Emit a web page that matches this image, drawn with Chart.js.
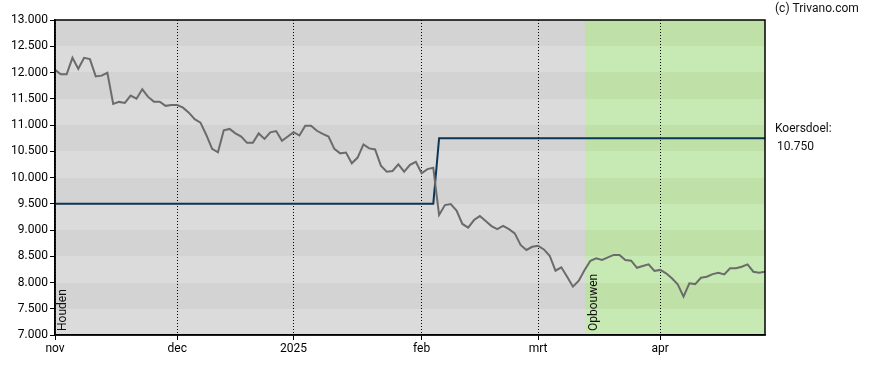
<!DOCTYPE html>
<html>
<head>
<meta charset="utf-8">
<script src="https://cdn.jsdelivr.net/npm/chart.js@4.4.1/dist/chart.umd.min.js"></script>
<style>
  html, body { margin: 0; padding: 0; background: #fff; }
  #wrap { width: 888px; height: 370px; }
</style>
</head>
<body>
<div id="wrap"><canvas id="koersChart" width="888" height="370"></canvas></div>
<script>
// slotkoersen per handelsdag, 1 nov 2024 t/m eind april 2025
const koers = [
  12050, 11965, 11965, 12280, 12070, 12280, 12255, 11925, 11940, 11995,
  11400, 11440, 11420, 11560, 11500, 11680, 11535, 11445, 11445, 11365,
  11380, 11380, 11330, 11235, 11110, 11045, 10810, 10545, 10480, 10900,
  10925, 10840, 10780, 10660, 10660, 10840, 10735, 10860, 10885, 10700,
  10780, 10865, 10800, 10985, 10985, 10890, 10830, 10780, 10545, 10460,
  10475, 10270, 10380, 10630, 10555, 10535, 10225, 10110, 10125, 10250,
  10110, 10240, 10300, 10080, 10160, 10185, 9285, 9475, 9495, 9370,
  9115, 9045, 9190, 9265, 9170, 9075, 9015, 9080, 9015, 8935,
  8715, 8620, 8680, 8700, 8630, 8510, 8225, 8290, 8110, 7920,
  8035, 8240, 8415, 8460, 8430, 8480, 8525, 8525, 8430, 8415,
  8280, 8315, 8345, 8220, 8240, 8175, 8080, 7965, 7730, 7985,
  7970, 8090, 8110, 8160, 8185, 8155, 8270, 8270, 8300, 8345,
  8205, 8185, 8205
];

const monthTicks = [0, 21, 41, 63, 83, 104];
const monthLabels = ['nov', 'dec', '2025', 'feb', 'mrt', 'apr'];

// koersdoel (trapje)
const doelIdx = [0, 65, 66, 122];
const doelWaarde = [9500, 9500, 10750, 10750];
const koersdoel = 10750;

const opbouwenStart = 91;
const yMin = 7000, yMax = 13000, yStep = 500;

const fmt = (v) => v.toLocaleString('nl-NL');

const achtergrond = {
  id: 'achtergrond',
  beforeDraw(chart) {
    const { ctx, chartArea: a, scales: { x, y } } = chart;
    const groenX = Math.round(x.getPixelForValue(opbouwenStart));
    let k = 0;
    for (let v = yMin; v < yMax; v += yStep, k++) {
      const top = Math.round(y.getPixelForValue(v + yStep));
      const bottom = Math.round(y.getPixelForValue(v));
      ctx.fillStyle = k % 2 ? '#d3d3d3' : '#dbdbdb';
      ctx.fillRect(a.left, top, groenX - a.left, bottom - top);
      ctx.fillStyle = k % 2 ? '#bfe0a7' : '#c7e9b3';
      ctx.fillRect(groenX, top, a.right - groenX, bottom - top);
    }
  },
  afterDraw(chart) {
    const { ctx, chartArea: a, scales: { x, y } } = chart;
    ctx.save();
    ctx.strokeStyle = '#000';
    ctx.lineWidth = 1.5;
    ctx.strokeRect(a.left, a.top, a.right - a.left, a.bottom - a.top);

    ctx.fillStyle = '#111';
    ctx.font = '12px Roboto';
    ctx.textBaseline = 'middle';
    ctx.textAlign = 'left';
    ctx.fillText('(c) Trivano.com', 775, 9);
    const yd = y.getPixelForValue(koersdoel);
    ctx.fillText('Koersdoel:', 775, yd - 9);
    ctx.fillText(fmt(koersdoel), 777, yd + 9);

    const zones = [['Houden', a.left + 8], ['Opbouwen', x.getPixelForValue(opbouwenStart) + 9]];
    zones.forEach(([tekst, zx]) => {
      ctx.save();
      ctx.translate(zx, a.bottom - 4);
      ctx.rotate(-Math.PI / 2);
      ctx.fillText(tekst, 0, 0);
      ctx.restore();
    });
    ctx.restore();
  }
};

const ctx = document.getElementById('koersChart').getContext('2d');

new Chart(ctx, {
  type: 'line',
  data: {
    datasets: [
      {
        label: 'Koers',
        data: koers.map((v, i) => ({ x: i, y: v })),
        borderColor: '#6b6b6b',
        borderWidth: 2,
        pointRadius: 0,
        tension: 0
      },
      {
        label: 'Koersdoel',
        data: doelIdx.map((v, i) => ({ x: v, y: doelWaarde[i] })),
        borderColor: '#0c3656',
        borderWidth: 2,
        pointRadius: 0,
        tension: 0
      }
    ]
  },
  options: {
    responsive: false,
    animation: false,
    devicePixelRatio: 1,
    layout: { padding: { left: 0, top: 20, right: 123, bottom: 0 } },
    plugins: { legend: { display: false }, tooltip: { enabled: false } },
    scales: {
      x: {
        type: 'linear',
        min: 0,
        max: koers.length - 1,
        afterBuildTicks(s) { s.ticks = monthTicks.map(v => ({ value: v })); },
        afterFit(s) { s.height = 35; },
        ticks: {
          autoSkip: false,
          maxRotation: 0,
          padding: 2,
          color: '#000',
          font: { family: 'Roboto', size: 12 },
          callback: (v, i) => monthLabels[i]
        },
        grid: {
          color: '#000',
          lineWidth: 1,
          tickLength: 5,
          tickColor: '#000',
          tickBorderDash: []
        },
        border: { display: true, color: '#000', width: 1.5, dash: [1, 2] }
      },
      y: {
        min: yMin,
        max: yMax,
        afterFit(s) { s.width = 55; },
        ticks: {
          stepSize: yStep,
          padding: 2,
          color: '#000',
          font: { family: 'Roboto', size: 12 },
          callback: (v) => fmt(v)
        },
        grid: {
          drawOnChartArea: false,
          tickLength: 5,
          color: '#000'
        },
        border: { display: true, color: '#000', width: 1.5 }
      }
    }
  },
  plugins: [achtergrond]
});
</script>
</body>
</html>
